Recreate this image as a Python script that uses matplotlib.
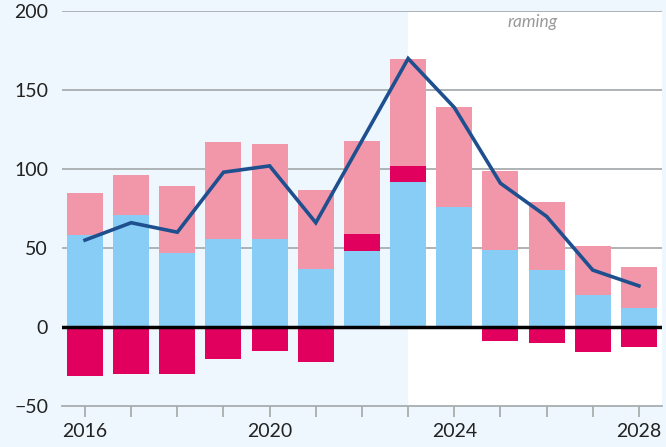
import matplotlib.pyplot as plt

years = [2016, 2017, 2018, 2019, 2020, 2021, 2022, 2023, 2024, 2025, 2026, 2027, 2028]
blue = [58, 71, 47, 56, 56, 37, 48, 92, 76, 49, 36, 20, 12]
magenta = [-31, -30, -30, -20, -15, -22, 11, 10, 0, -9, -10, -16, -13]
pink = [27, 25, 42, 61, 60, 50, 59, 68, 63, 50, 43, 31, 26]
line = [55, 66, 60, 98, 102, 66, 118, 170, 139, 91, 70, 36, 26]

tick_labels = {2016: "2016", 2020: "2020", 2024: "2024", 2028: "2028"}

bg = "#eef7fd"
c_blue = "#88cdf6"
c_pink = "#f296aa"
c_mag = "#e2005f"
c_line = "#1e4f8e"

plt.rcParams.update({"font.family": ["Lato", "DejaVu Sans"], "font.size": 12})

fig = plt.figure(figsize=(6.66, 4.47), dpi=100, facecolor=bg)
ax = fig.add_axes([0.093, 0.092, 0.901, 0.883])
ax.set_facecolor(bg)

# forecast area (white)
ax.axvspan(2023, 2028.5, color="white", zorder=0, lw=0)

for y in [50, 100, 150, 200]:
    ax.axhline(y, color="#a9adb0", lw=1.3, zorder=1)

w = 0.78
pos_mag = [m if m > 0 else 0 for m in magenta]
neg_mag = [m if m < 0 else 0 for m in magenta]
ax.bar(years, blue, width=w, color=c_blue, zorder=2)
ax.bar(years, pos_mag, width=w, bottom=blue, color=c_mag, zorder=2)
pink_bottom = [b + p for b, p in zip(blue, pos_mag)]
ax.bar(years, pink, width=w, bottom=pink_bottom, color=c_pink, zorder=2)
ax.bar(years, neg_mag, width=w, color=c_mag, zorder=2)

ax.axhline(0, color="black", lw=2.5, zorder=3)
ax.plot(years, line, color=c_line, lw=2.6, zorder=4, solid_joinstyle="miter")

ax.text(2025.7, 193, "raming", style="italic", color="#9a9a9a", fontsize=12.5,
        ha="center", va="center", zorder=5)

ax.set_xlim(2015.5, 2028.5)
ax.set_ylim(-50, 200)
ax.set_yticks([-50, 0, 50, 100, 150, 200])
ax.set_xticks(years)
ax.set_xticklabels([tick_labels.get(y, "") for y in years])

for s in ["top", "right", "left"]:
    ax.spines[s].set_visible(False)
ax.spines["bottom"].set_color("#a9adb0")
ax.spines["bottom"].set_linewidth(1.3)
ax.tick_params(axis="y", length=0, pad=10, labelsize=14, colors="#222222")
ax.tick_params(axis="x", length=8, width=1.3, color="#a9adb0", pad=4,
               labelsize=14, labelcolor="#222222")

fig.savefig("out.png", dpi=100, facecolor=bg)
